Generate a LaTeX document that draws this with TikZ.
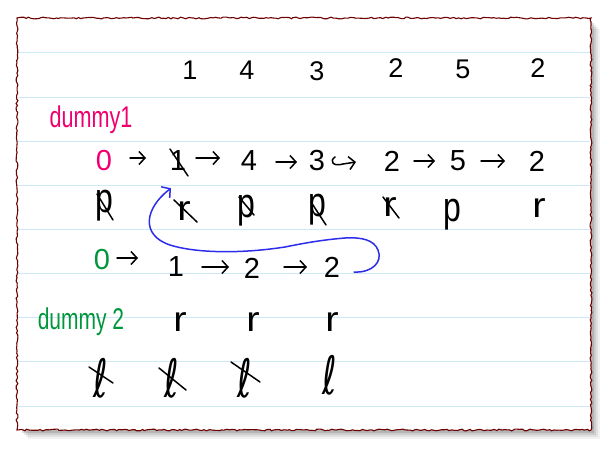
\documentclass[tikz,border=0pt]{standalone}
\usepackage{fontspec}
\setmainfont{Liberation Sans}
\newfontfamily\ellfont{DejaVu Sans}
\usetikzlibrary{arrows.meta,decorations.pathmorphing}
\definecolor{pinkink}{RGB}{240,0,110}
\definecolor{greenink}{RGB}{0,150,60}
\definecolor{blueink}{RGB}{45,45,235}
\definecolor{ruleblue}{RGB}{205,232,246}
\definecolor{edgered}{RGB}{110,0,0}
\newcommand\myr{\scalebox{1.25}[1.1]{r}}
\newcommand\myp{\scalebox{1}[1.3]{p}}
\newcommand\myell{\scalebox{0.8}[1.2]{\ellfont ℓ}}
\begin{document}
\begin{tikzpicture}[x=1pt,y=-1pt,
  topnum/.style={inner sep=0pt, font=\fontsize{27}{27}\selectfont},
  ink/.style={inner sep=0pt, font=\fontsize{29}{29}\selectfont},
  ptr/.style={inner sep=0pt, font=\fontsize{32}{32}\selectfont},
  ellnode/.style={inner sep=0pt, font=\fontsize{44}{44}\selectfont},
  word/.style={inner sep=0pt, font=\fontsize{30}{30}\selectfont},
  arr/.style={line width=1.5pt, line cap=round, -{Straight Barb[length=6pt,width=13pt]}},
  strikeline/.style={line width=1.5pt, line cap=round},
  rule/.style={draw=ruleblue, line width=0.9pt},
  bluearr/.style={blueink, line width=1.5pt, line cap=round, -{Straight Barb[length=6pt,width=14pt]}}
]
\useasboundingbox (0,0) rectangle (610,449);
% shadow
\foreach \o/\op in {9/0.05,7/0.07,5/0.09,3/0.12}
  \fill[black, opacity=\op] (19+\o,20+\o) rectangle (591+\o,430+\o);
% paper
\fill[white] (17,18) rectangle (591,430);
\foreach \yy in {52,97,141,185,229,273,317,361,406}
  \draw[rule] (18,\yy) -- (590,\yy);
\pgfmathsetseed{7}
\draw[edgered, line width=1.1pt, decorate, decoration={random steps, segment length=2.5pt, amplitude=0.9pt}]
  (17,18) rectangle (591,430);

% top row
\node[topnum] (t1) at (190,70) {1};
\node[topnum] (t4) at (247,70) {4};
\node[topnum] (t3) at (317,71) {3};
\node[topnum] (t2a) at (396,68) {2};
\node[topnum] (t5) at (463,69) {5};
\node[topnum] (t2b) at (538,68) {2};

% dummy1
\node[word, text=pinkink] (dum1) at (91,120) {\scalebox{0.72}[1]{dummy1}};

% list 1
\node[ink, text=pinkink] (z1) at (104,161) {0};
\node[ink] (n1) at (178,161) {1};
\node[ink] (n2) at (249,161) {4};
\node[ink] (n3) at (317,161) {3};
\node[ink] (n4) at (392,161) {2};
\node[ink] (n5) at (458,161) {5};
\node[ink] (n6) at (537,161) {2};
\draw[arr] ([shift={(26,-3)}]z1.center) -- ([shift={(-32,-3)}]n1.center);
\draw[arr] ([shift={(18,-3)}]n1.center) -- ([shift={(-29,-3)}]n2.center);
\draw[arr] ([shift={(27,1)}]n2.center) -- ([shift={(-20,1)}]n3.center);
\draw[arr] ([shift={(18,-4)}]n3.center) .. controls ([shift={(12,0)}]n3.center) and ([shift={(16,6)}]n3.center) .. ([shift={(26,3)}]n3.center) -- ([shift={(-36,1)}]n4.center);
\draw[arr] ([shift={(22,0)}]n4.center) -- ([shift={(-23,0)}]n5.center);
\draw[arr] ([shift={(23,0)}]n5.center) -- ([shift={(-32,0)}]n6.center);
\draw[strikeline] ([shift={(-8,-12)}]n1.center) -- ([shift={(10,15)}]n1.center);

% pointers row
\node[ptr] (p0) at (104,206) {\myp};
\node[ptr] (r1) at (184,211) {\myr};
\node[ptr] (p2) at (246,211) {\myp};
\node[ptr] (p3) at (317,210) {\myp};
\node[ptr] (r4) at (390,207) {\myr};
\node[ptr] (p5) at (452,215) {\myp};
\node[ptr] (r6) at (539,208) {\myr};
\draw[strikeline] ([shift={(-7,-12)}]p0.center) -- ([shift={(9,14)}]p0.center);
\draw[strikeline] ([shift={(-10,-11)}]r1.center) -- ([shift={(13,11)}]r1.center);
\draw[strikeline] ([shift={(-7,-14)}]p2.center) -- ([shift={(8,4)}]p2.center);
\draw[strikeline] ([shift={(-6,-8)}]p3.center) -- ([shift={(9,15)}]p3.center);
\draw[strikeline] ([shift={(-7,-10)}]r4.center) -- ([shift={(9,11)}]r4.center);

% list 2
\node[ink, text=greenink] (g0) at (102,260) {0};
\node[ink] (m1) at (176,267) {1};
\node[ink] (m2) at (252,268) {2};
\node[ink] (m3) at (332,267) {2};
\draw[arr] ([shift={(15,-2)}]g0.center) -- ([shift={(-38,-9)}]m1.center);
\draw[arr] ([shift={(26,0)}]m1.center) -- ([shift={(-23,-1)}]m2.center);
\draw[arr] ([shift={(32,-1)}]m2.center) -- ([shift={(-25,0)}]m3.center);

% blue connector
\draw[bluearr] ([shift={(22,5)}]m3.center)
  .. controls (372,273) and (383,262) .. (378,250)
  .. controls (374,240) and (362,237) .. (345,238)
  .. controls (320,240) and (300,244) .. (285,247)
  .. controls (240,254) and (195,253) .. (170,245)
  .. controls (140,235) and (145,208) .. ([shift={(-7,17)}]n1.south);

% dummy2
\node[word, text=greenink] (dum2) at (81,322) {\scalebox{0.7}[1]{dummy 2}};
\node[ptr] (s1) at (180,322) {\myr};
\node[ptr] (s2) at (253,322) {\myr};
\node[ptr] (s3) at (332,322) {\myr};

% ell row
\node[ellnode] (l0) at (101,378) {\myell};
\node[ellnode] (l1) at (172,378) {\myell};
\node[ellnode] (l2) at (245,378) {\myell};
\node[ellnode] (l3) at (330,375) {\myell};
\draw[strikeline] ([shift={(-12,-11)}]l0.center) -- ([shift={(12,5)}]l0.center);
\draw[strikeline] ([shift={(-13,-10)}]l1.center) -- ([shift={(14,12)}]l1.center);
\draw[strikeline] ([shift={(-14,-16)}]l2.center) -- ([shift={(15,4)}]l2.center);
\end{tikzpicture}
\end{document}
